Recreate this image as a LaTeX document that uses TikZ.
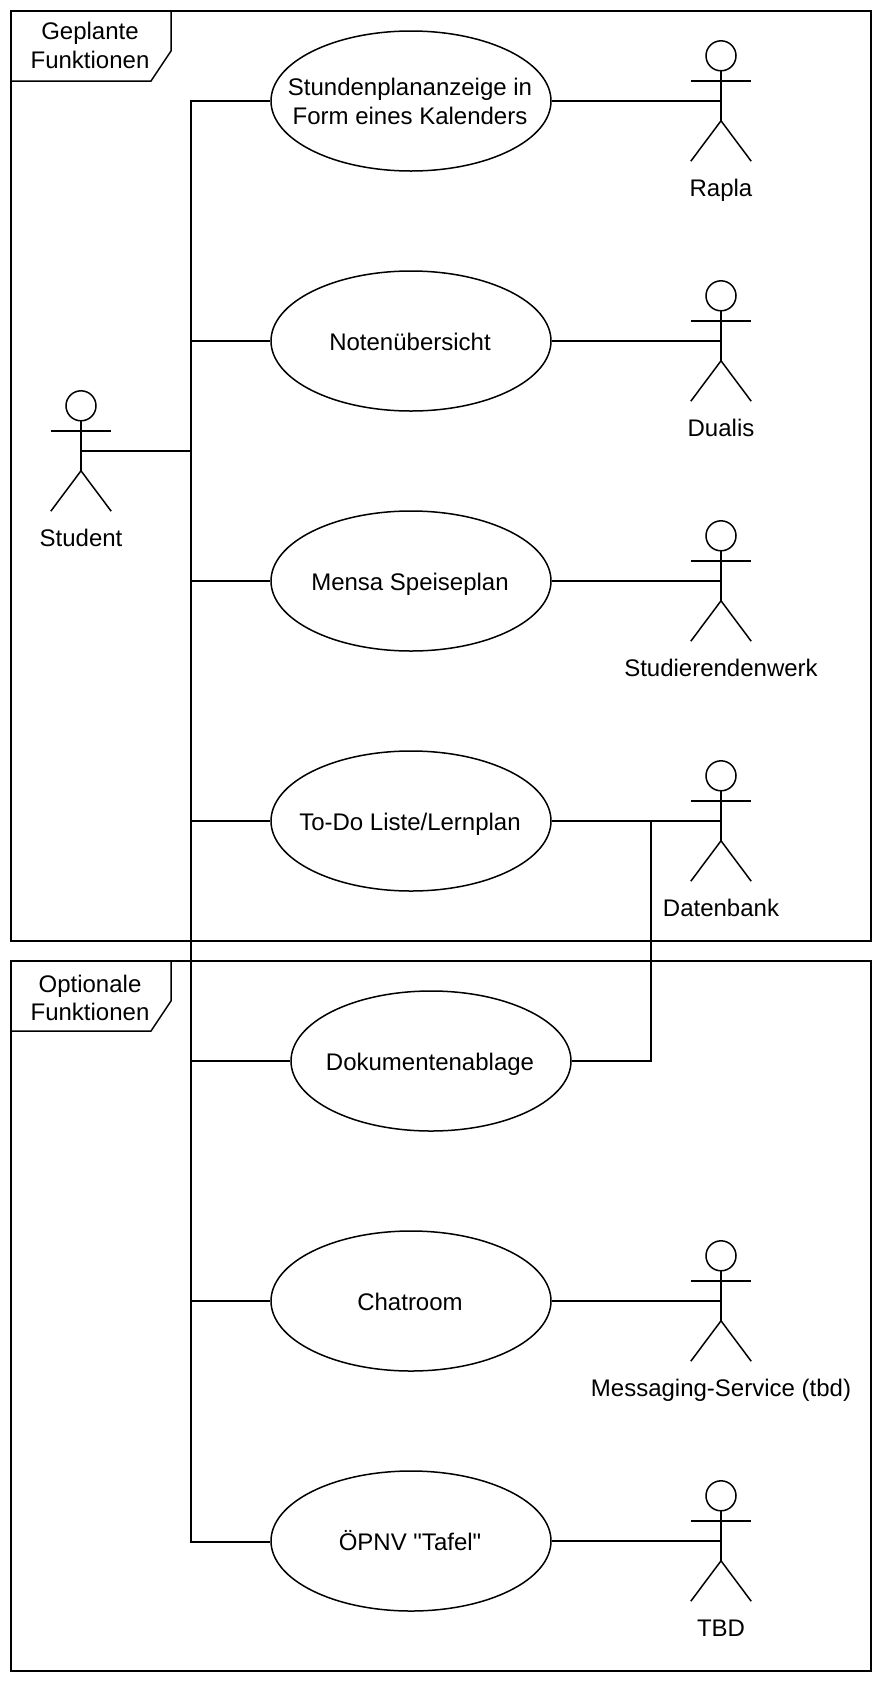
\documentclass[tikz,border=0pt]{standalone}
\usepackage{fontspec}
\newfontfamily\diagfont{Liberation Sans}
\usetikzlibrary{shapes.geometric}
\tikzset{
  ln/.style={line width=1.5pt,black},
  usecase/.style={ellipse,draw,line width=1.5pt,minimum width=280pt,minimum height=140pt,inner sep=0pt,fill=white},
  uctext/.style={anchor=base,inner sep=0pt,font=\diagfont\fontsize{24}{28.8}\selectfont},
  uctexttwo/.style={align=center,inner sep=0pt,font=\diagfont\fontsize{24}{28.8}\selectfont},
  actorbox/.style={minimum width=60pt,minimum height=120pt,inner sep=0pt},
  actorlabel/.style={anchor=base,inner sep=0pt,font=\diagfont\fontsize{24}{28.8}\selectfont},
  tablabel/.style={align=center,inner sep=0pt,font=\diagfont\fontsize{24}{28.8}\selectfont},
}
\newcommand{\usecase}[3]{% name, center, label
  \node[usecase] (#1) at (#2) {};
  \node[uctext] (#1text) at ([xshift=-1pt,yshift=-9pt]#1.center) {#3};
}
\newcommand{\actor}[3]{% name, center, label
  \node[actorbox] (#1) at (#2) {};
  \draw[ln] ([yshift=-15pt]#1.north) circle[radius=15pt];
  \draw[ln] ([yshift=-30pt]#1.north) -- ([yshift=-80pt]#1.north);
  \draw[ln] ([yshift=-40pt]#1.north west) -- ([yshift=-40pt]#1.north east);
  \draw[ln] (#1.south west) -- ([yshift=-80pt]#1.north) -- (#1.south east);
  \node[actorlabel] (#1label) at ([yshift=-35pt]#1.south) {#3};
}
\begin{document}
\begin{tikzpicture}[x=1pt,y=-1pt]
\useasboundingbox (0,0) rectangle (882,1682);
% frames
\node[draw,line width=1.5pt,minimum width=860pt,minimum height=930pt,inner sep=0pt] (frameA) at (441,476) {};
\node[draw,line width=1.5pt,minimum width=860pt,minimum height=710pt,inner sep=0pt] (frameB) at (441,1316) {};
\draw[ln] (11,81) -- (151,81) -- (171,51) -- (171,11);
\draw[ln] (11,1031) -- (151,1031) -- (171,1001) -- (171,961);
\node[tablabel] (tabA) at (90,45.5) {Geplante\\Funktionen};
\node[tablabel] (tabB) at (90,998) {Optionale\\Funktionen};
% use cases
\node[usecase] (uc1) at (411,101) {};
\node[uctexttwo] (uc1text) at ([xshift=-1pt,yshift=-0.5pt]uc1.center) {Stundenplananzeige in\\Form eines Kalenders};
\usecase{uc2}{411,341}{Notenübersicht}
\usecase{uc3}{411,581}{Mensa Speiseplan}
\usecase{uc4}{411,821}{To-Do Liste/Lernplan}
\usecase{uc5}{431,1061}{Dokumentenablage}
\usecase{uc6}{411,1301}{Chatroom}
\usecase{uc7}{411,1541}{ÖPNV "Tafel"}
% actors
\actor{student}{81,451}{Student}
\actor{rapla}{721,101}{Rapla}
\actor{dualis}{721,341}{Dualis}
\actor{werk}{721,581}{Studierendenwerk}
\actor{db}{721,821}{Datenbank}
\actor{msg}{721,1301}{Messaging-Service (tbd)}
\actor{tbd}{721,1541}{TBD}
% connectors
\coordinate (trunk) at (191,451);
\coordinate (fork) at (651,821);
\draw[ln] (student.center) -- (trunk);
\foreach \u in {uc1,uc2,uc3,uc4,uc5,uc6}{
  \draw[ln] (trunk) |- (\u.west);
}
\draw[ln] (trunk) |- ([yshift=-1pt]uc7.west);
\draw[ln] (uc1.east) -- (rapla.center);
\draw[ln] (uc2.east) -- (dualis.center);
\draw[ln] (uc3.east) -- (werk.center);
\draw[ln] (uc4.east) -- (db.center);
\draw[ln] (uc5.east) -| (fork);
\draw[ln] (uc6.east) -- (msg.center);
\draw[ln] (uc7.east) -- (tbd.center);
\end{tikzpicture}
\end{document}
